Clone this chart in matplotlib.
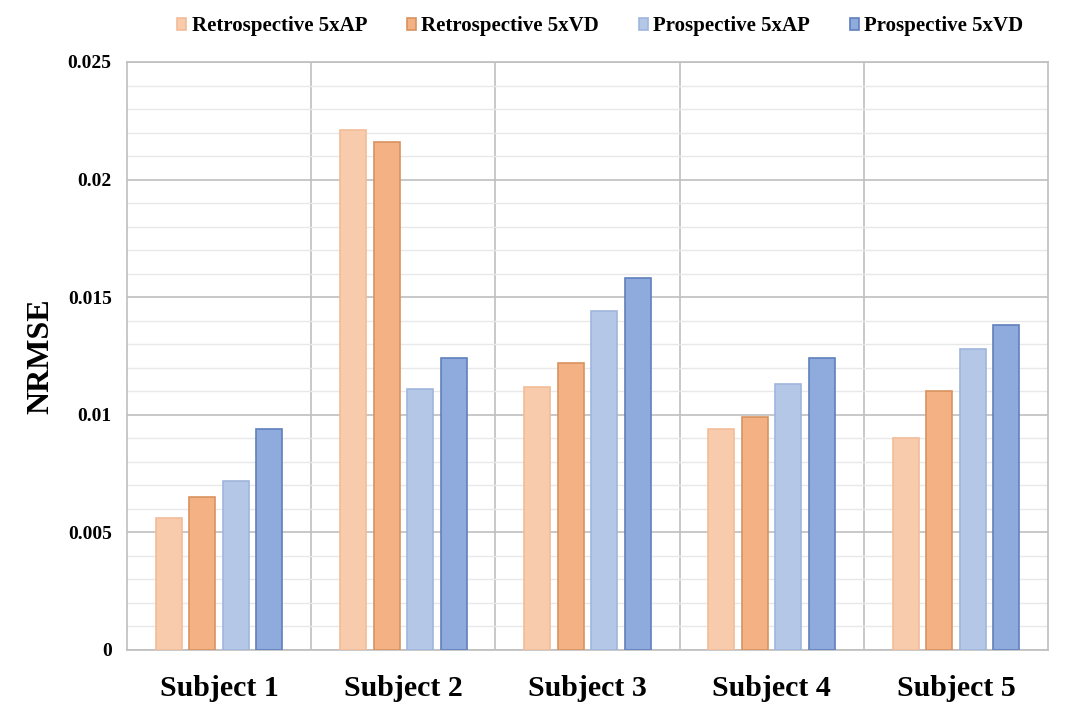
import numpy as np
import matplotlib.pyplot as plt
from matplotlib.ticker import MultipleLocator

subjects = ['Subject 1', 'Subject 2', 'Subject 3', 'Subject 4', 'Subject 5']
series = ['Retrospective 5xAP', 'Retrospective 5xVD', 'Prospective 5xAP', 'Prospective 5xVD']
retro_ap = [0.0056, 0.0221, 0.0112, 0.0094, 0.0090]
retro_vd = [0.0065, 0.0216, 0.0122, 0.0099, 0.0110]
pro_ap = [0.0072, 0.0111, 0.0144, 0.0113, 0.0128]
pro_vd = [0.0094, 0.0124, 0.0158, 0.0124, 0.0138]

faces = ['#F8CBAD', '#F4B183', '#B4C7E7', '#8FAADC']
edges = ['#F3BC98', '#D9925F', '#9FB5DD', '#5F80BD']

plt.rcParams['font.family'] = ['Liberation Serif', 'DejaVu Serif']
plt.rcParams['font.weight'] = 'bold'

fig = plt.figure(figsize=(10.68, 7.14), dpi=100)
ax = fig.add_axes([127/1068, 1-650/714, (1048-127)/1068, (650-62)/714])

x = np.arange(len(subjects))
w = 0.141
step = 0.182
vals = [retro_ap, retro_vd, pro_ap, pro_vd]
for i, v in enumerate(vals):
    ax.bar(x + (i-1.5)*step, v, w, color=faces[i], edgecolor=edges[i],
           linewidth=1.2, label=series[i], zorder=3)

ax.set_xlim(-0.5, len(subjects)-0.5)
ax.set_ylim(0, 0.025)
ax.yaxis.set_minor_locator(MultipleLocator(0.001))
ax.set_xticks(x)
ax.set_xticks(np.arange(0.5, len(subjects)-0.5, 1), minor=True)
ax.set_xticklabels(subjects, fontsize=21.5, fontweight='bold')
ax.set_yticks([0, 0.005, 0.01, 0.015, 0.02, 0.025])
ax.set_yticklabels(['0', '0.005', '0.01', '0.015', '0.02', '0.025'], fontsize=14, fontweight='bold')
ax.tick_params(which='both', length=0)
ax.tick_params(axis='x', pad=18)
ax.tick_params(axis='y', pad=11)

ax.yaxis.grid(True, which='major', color='#BFBFBF', linewidth=1.2, zorder=0)
ax.yaxis.grid(True, which='minor', color='#E8E8E8', linewidth=1.0, zorder=0)
ax.xaxis.grid(True, which='minor', color='#BFBFBF', linewidth=1.2, zorder=0)
ax.xaxis.grid(False, which='major')
ax.set_axisbelow(True)
for s in ax.spines.values():
    s.set_color('#BFBFBF')
    s.set_linewidth(1.2)

ax.set_ylabel('NRMSE', fontsize=23, fontweight='bold', labelpad=9)

fig.legend(loc='center', bbox_to_anchor=(0.562, 0.963), ncol=4, frameon=False,
           prop={'family': 'Liberation Serif', 'weight': 'bold', 'size': 15},
           handlelength=0.45, handleheight=0.45, handletextpad=0.25, columnspacing=1.9)

fig.savefig('out.png', dpi=100)
